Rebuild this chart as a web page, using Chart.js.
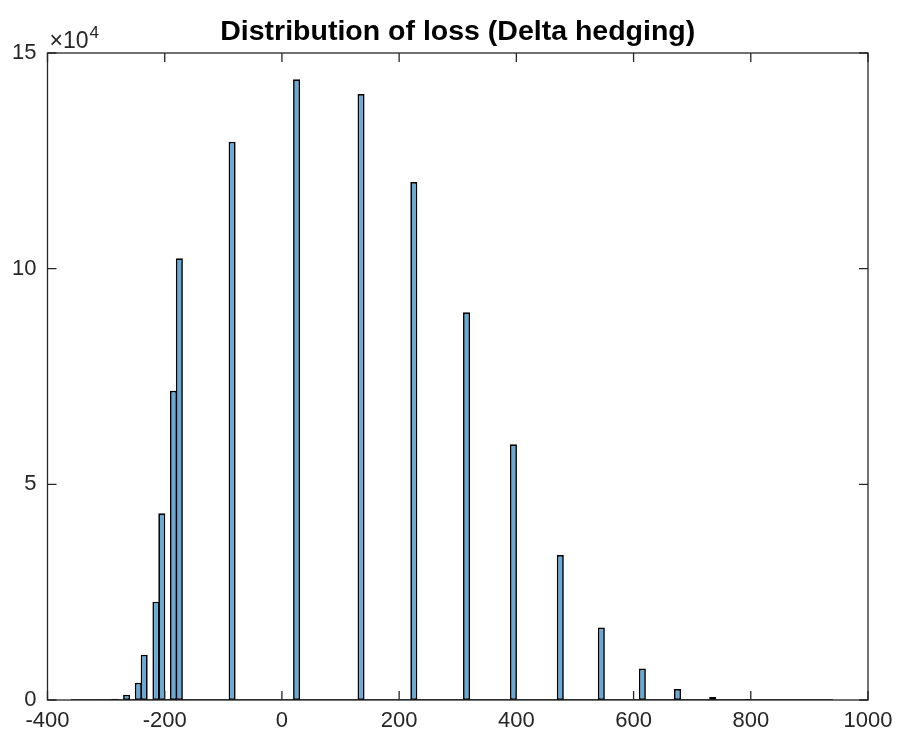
<!DOCTYPE html>
<html>
<head>
<meta charset="utf-8">
<script src="https://cdn.jsdelivr.net/npm/chart.js@4/dist/chart.umd.min.js"></script>
<style>
  html, body { margin: 0; padding: 0; background: #ffffff; }
  #wrap { width: 898px; height: 740px; }
</style>
</head>
<body>
<div id="wrap"><canvas id="c" width="898" height="740"></canvas></div>
<script>
// Histogram of the loss under delta hedging (bins of width 10)
const chartTitle = 'Distribution of loss (Delta hedging)';
const binWidth = 10;
const histRange = [-360, 940];                 // outer edges of the histogram
const binLeftEdges = [-310, -290, -270, -250, -240, -220, -210, -190, -180,
                      -90, 20, 130, 220, 310, 390, 470, 540, 610, 670, 730, 790];
const binCounts    = [60, 300, 1230, 4000, 10500, 22800, 43300, 71700, 102400,
                      129400, 143900, 140500, 120100, 89900, 59300, 33600, 16800, 7300, 2550, 700, 150];
const xTickValues = [-400, -200, 0, 200, 400, 600, 800, 1000];
const yTickValues = [0, 50000, 100000, 150000];
const yExponent = 4;

const axisColor = 'rgb(38,38,38)';
const fontFamily = '"Liberation Sans", Arial, sans-serif';
const tickFont = { family: fontFamily, size: 22 };

const barPoints = binLeftEdges.map((e, i) => ({ x: e + binWidth / 2, y: binCounts[i] }));
const baselinePoints = histRange.map(v => ({ x: v, y: 0 }));

// box, inward tick marks, the ×10^n multiplier and the title centred over the plot
const axesBox = {
  id: 'axesBox',
  afterDatasetsDraw(chart) {
    const { ctx, chartArea: a, scales } = chart;
    const len = 9;
    ctx.save();
    ctx.strokeStyle = axisColor;
    ctx.lineWidth = 1.3;
    ctx.strokeRect(a.left, a.top, a.right - a.left, a.bottom - a.top);
    ctx.beginPath();
    xTickValues.forEach(v => {
      const px = scales.x.getPixelForValue(v);
      ctx.moveTo(px, a.bottom); ctx.lineTo(px, a.bottom - len);
      ctx.moveTo(px, a.top); ctx.lineTo(px, a.top + len);
    });
    yTickValues.forEach(v => {
      const py = scales.y.getPixelForValue(v);
      ctx.moveTo(a.left, py); ctx.lineTo(a.left + len, py);
      ctx.moveTo(a.right, py); ctx.lineTo(a.right - len, py);
    });
    ctx.stroke();

    ctx.fillStyle = axisColor;
    ctx.textBaseline = 'alphabetic';
    ctx.textAlign = 'left';
    ctx.font = '23px ' + fontFamily;
    const base = a.top - 5;
    const mult = '\u00d710';
    ctx.fillText(mult, a.left + 2, base);
    const w = ctx.measureText(mult).width;
    ctx.font = '17px ' + fontFamily;
    ctx.fillText(String(yExponent), a.left + 2 + w + 1, base - 10);

    ctx.fillStyle = '#000000';
    ctx.textAlign = 'center';
    ctx.font = 'bold 28.5px ' + fontFamily;
    ctx.fillText(chartTitle, (a.left + a.right) / 2, 40);
    ctx.restore();
  }
};

new Chart(document.getElementById('c'), {
  type: 'bar',
  data: {
    datasets: [
      {
        type: 'bar',
        data: barPoints,
        backgroundColor: 'rgb(102,170,215)',
        borderColor: '#000000',
        borderWidth: 1.7,
        borderSkipped: false,
        barPercentage: 1.2,
        categoryPercentage: 1,
        order: 2
      },
      {
        type: 'line',
        data: baselinePoints,
        borderColor: '#000000',
        borderWidth: 1.6,
        pointRadius: 0,
        fill: false,
        order: 1
      }
    ]
  },
  options: {
    responsive: false,
    devicePixelRatio: 1,
    animation: false,
    layout: { padding: { left: 0, right: 30, top: 53, bottom: 0 } },
    plugins: {
      legend: { display: false },
      tooltip: { enabled: false },
      title: { display: false }
    },
    scales: {
      x: {
        type: 'linear',
        offset: false,
        min: -400,
        max: 1000,
        grid: { display: false, drawTicks: false, offset: false },
        border: { display: false },
        afterBuildTicks(scale) { scale.ticks = xTickValues.map(v => ({ value: v })); },
        afterFit(scale) {
          scale.height = 40;
          scale.paddingLeft = 0;
          scale.paddingRight = 0;
        },
        ticks: {
          color: axisColor, font: tickFont, padding: 8, maxRotation: 0, autoSkip: false,
          callback: v => String(v)
        }
      },
      y: {
        min: 0,
        max: 150000,
        grid: { display: false, drawTicks: false },
        border: { display: false },
        afterBuildTicks(scale) { scale.ticks = yTickValues.map(v => ({ value: v })); },
        afterFit(scale) {
          scale.width = 47.5;
          scale.paddingTop = 0;
          scale.paddingBottom = 0;
        },
        ticks: {
          color: axisColor, font: tickFont, padding: 11,
          callback: v => String(v / Math.pow(10, yExponent))
        }
      }
    }
  },
  plugins: [axesBox]
});
</script>
</body>
</html>
